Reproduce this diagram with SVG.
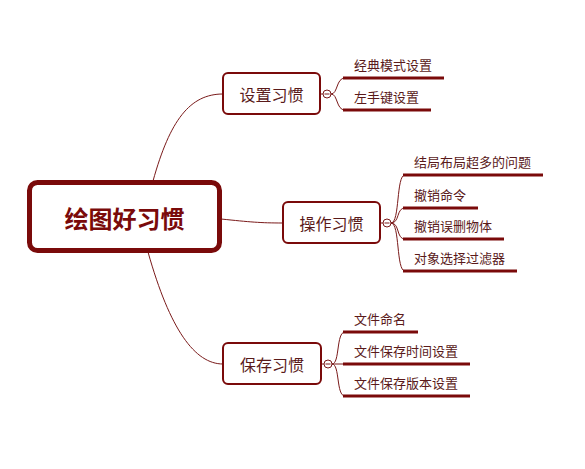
<svg xmlns="http://www.w3.org/2000/svg" width="585" height="469" viewBox="0 0 585 469">
<style>
.c{fill:none;stroke:#7a1a1a;stroke-width:1}
.u{fill:none;stroke:#7a0a0a;stroke-width:3}
.b{fill:#fff;stroke:#7a0a0a;stroke-width:2}
.t{font-family:"Noto Sans CJK SC","Liberation Sans",sans-serif;fill:#5a1a1a}
.bt{font-size:16px}
.st{font-size:13px}
.tg{fill:#fff;stroke:#7a1a1a;stroke-width:1}
</style>
<rect width="585" height="469" fill="#fff"/>
<g id="connectors">
<path class="c" d="M153,181 C170,120 190,94 223,94"/>
<path class="c" d="M221,219 C250,222 260,223 283,223"/>
<path class="c" d="M148,252 C170,330 195,364 223,364"/>
<path class="c" d="M320,94 L323,94"/>
<path class="c" d="M380,223 L383,223"/>
<path class="c" d="M321,364 L324,364"/>
<path class="c" d="M331,94 C338,94 336,78 345,78"/>
<path class="c" d="M331,94 C338,94 336,110 345,110"/>
<path class="c" d="M391,223 C400,223 396,175 405,175"/>
<path class="c" d="M391,223 C400,223 396,208 405,208"/>
<path class="c" d="M391,223 C400,223 396,239 405,239"/>
<path class="c" d="M391,223 C400,223 396,271 405,271"/>
<path class="c" d="M332,364 C340,364 336,332 345,332"/>
<path class="c" d="M332,364 L345,364"/>
<path class="c" d="M332,364 C340,364 336,396 345,396"/>
</g>
<g id="root">
<rect x="29.5" y="182.5" width="190" height="68" rx="8" fill="#fff" stroke="#7a0a0a" stroke-width="5"/>
<text class="t" x="124.5" y="217" font-size="24" font-weight="bold" fill="#7a0a0a" style="fill:#7a0a0a" text-anchor="middle" dominant-baseline="central">绘图好习惯</text>
</g>
<g id="n1">
<rect class="b" x="223" y="73" width="97" height="41" rx="5"/>
<text class="t bt" x="271.5" y="94" text-anchor="middle" dominant-baseline="central">设置习惯</text>
<circle class="tg" cx="327" cy="94" r="4"/><path class="c" d="M324.5,94 H329.5"/>
</g>
<g id="n1a"><path class="u" d="M343,78 H444"/><text class="t st" x="354" y="70">经典模式设置</text></g>
<g id="n1b"><path class="u" d="M343,110 H431"/><text class="t st" x="354" y="102">左手键设置</text></g>
<g id="n2">
<rect class="b" x="283" y="202" width="97" height="41" rx="5"/>
<text class="t bt" x="331.5" y="223" text-anchor="middle" dominant-baseline="central">操作习惯</text>
<circle class="tg" cx="387" cy="223" r="4"/><path class="c" d="M384.5,223 H389.5"/>
</g>
<g id="n2a"><path class="u" d="M403,175 H543"/><text class="t st" x="414" y="167">结局布局超多的问题</text></g>
<g id="n2b"><path class="u" d="M403,208 H478"/><text class="t st" x="414" y="200">撤销命令</text></g>
<g id="n2c"><path class="u" d="M403,239 H504"/><text class="t st" x="414" y="231">撤销误删物体</text></g>
<g id="n2d"><path class="u" d="M403,271 H517"/><text class="t st" x="414" y="263">对象选择过滤器</text></g>
<g id="n3">
<rect class="b" x="223" y="343" width="98" height="41" rx="5"/>
<text class="t bt" x="272" y="364" text-anchor="middle" dominant-baseline="central">保存习惯</text>
<circle class="tg" cx="328" cy="364" r="4"/><path class="c" d="M325.5,364 H330.5"/>
</g>
<g id="n3a"><path class="u" d="M343,332 H418"/><text class="t st" x="354" y="324">文件命名</text></g>
<g id="n3b"><path class="u" d="M343,364 H470"/><text class="t st" x="354" y="356">文件保存时间设置</text></g>
<g id="n3c"><path class="u" d="M343,396 H470"/><text class="t st" x="354" y="388">文件保存版本设置</text></g>
</svg>
